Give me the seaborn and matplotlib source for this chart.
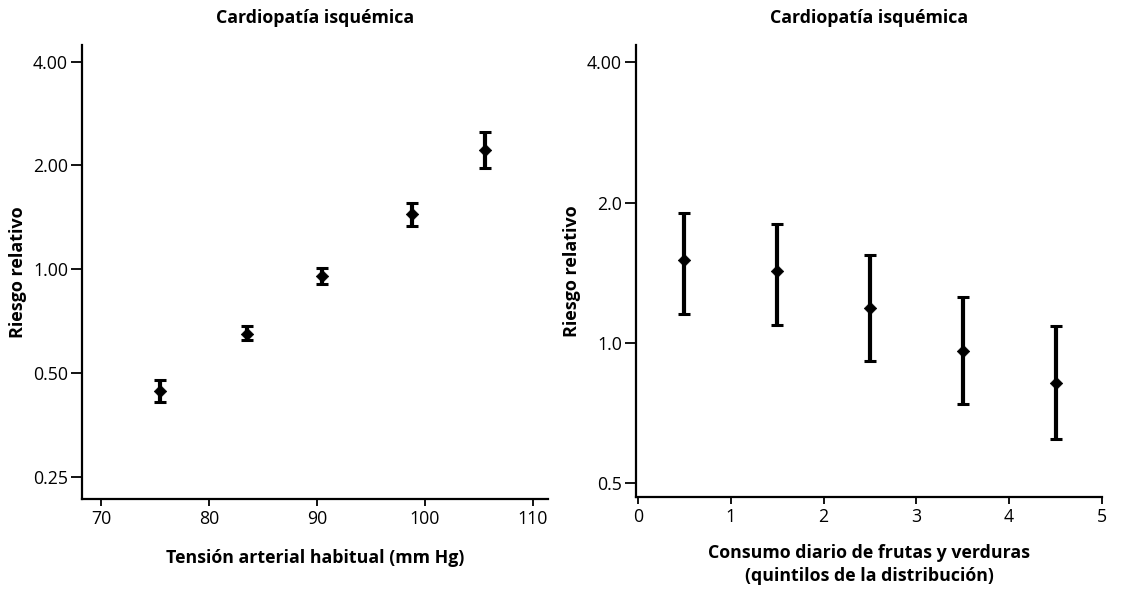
import matplotlib
matplotlib.use("Agg")
import matplotlib.pyplot as plt
import seaborn as sns
import pandas as pd
import numpy as np
from matplotlib.ticker import FixedLocator, NullLocator, FixedFormatter

sns.set_theme(style="ticks")
plt.rcParams['font.family'] = ['Open Sans', 'DejaVu Sans']
plt.rcParams['text.color'] = 'black'
plt.rcParams['axes.labelcolor'] = 'black'
plt.rcParams['axes.titlecolor'] = 'black'

# ---- Data: left panel (blood pressure) ----
bp_x = [75.5, 83.5, 90.5, 98.8, 105.6]
bp_rr = [0.443, 0.647, 0.955, 1.442, 2.216]
bp_lo = [0.411, 0.623, 0.904, 1.334, 1.970]
bp_hi = [0.477, 0.684, 1.010, 1.552, 2.499]
bp_xticks = [70, 80, 90, 100, 110]
bp_yticks = [0.25, 0.50, 1.00, 2.00, 4.00]
bp_yticklabels = ["0.25", "0.50", "1.00", "2.00", "4.00"]

# ---- Data: right panel (fruit & vegetables) ----
fv_x = [0.5, 1.5, 2.5, 3.5, 4.5]
fv_rr = [1.508, 1.426, 1.187, 0.963, 0.820]
fv_lo = [1.155, 1.092, 0.915, 0.740, 0.622]
fv_hi = [1.897, 1.797, 1.545, 1.253, 1.089]
fv_xticks = [0, 1, 2, 3, 4, 5]
fv_yticks = [0.5, 1.0, 2.0, 4.0]
fv_yticklabels = ["0.5", "1.0", "2.0", "4.00"]

title = "Cardiopatía isquémica"
ylabel = "Riesgo relativo"
xlabel_left = "Tensión arterial habitual (mm Hg)"
xlabel_right = "Consumo diario de frutas y verduras\n(quintilos de la distribución)"

W, H = 1121, 595
fig = plt.figure(figsize=(W / 100, H / 100), dpi=100)
fig.patch.set_facecolor("white")

def px_axes(x0, x1, y0, y1):
    return fig.add_axes([x0 / W, 1 - y1 / H, (x1 - x0) / W, (y1 - y0) / H])

axL = px_axes(82, 548, 45, 498.5)
axR = px_axes(636, 1102, 45, 497)

def draw(ax, x, rr, lo, hi, xlim, ylim, xticks, yticks, yticklabels, xlabel, lw):
    df = pd.DataFrame({"x": x, "rr": rr, "lo": lo, "hi": hi})
    ax.set_yscale("log")
    ax.errorbar(df["x"], df["rr"],
                yerr=[df["rr"] - df["lo"], df["hi"] - df["rr"]],
                fmt="none", ecolor="black", elinewidth=lw, capsize=4,
                capthick=2.2, zorder=2)
    sns.scatterplot(data=df, x="x", y="rr", ax=ax, marker="D", s=40,
                    color="black", edgecolor="black", linewidth=0.5,
                    zorder=3, legend=False)
    ax.set_xlim(*xlim)
    ax.set_ylim(*ylim)
    ax.xaxis.set_major_locator(FixedLocator(xticks))
    ax.yaxis.set_major_locator(FixedLocator(yticks))
    ax.yaxis.set_major_formatter(FixedFormatter(yticklabels))
    ax.yaxis.set_minor_locator(NullLocator())
    ax.xaxis.set_minor_locator(NullLocator())
    for s in ["top", "right"]:
        ax.spines[s].set_visible(False)
    for s in ["left", "bottom"]:
        ax.spines[s].set_linewidth(1.6)
        ax.spines[s].set_color("black")
    ax.tick_params(axis="y", direction="out", length=8, width=1.3,
                   labelsize=12.8, pad=2, colors="black")
    ax.tick_params(axis="x", direction="out", length=5, width=1.3,
                   labelsize=12.8, pad=3, colors="black")
    ax.set_title(title, fontsize=12.8, fontweight="bold", pad=16, color="black")
    ax.set_ylabel(ylabel, fontsize=13, fontweight="bold", color="black")
    ax.set_xlabel(xlabel, fontsize=12.8, fontweight="bold", linespacing=1.35,
                  color="black")
    ax.grid(False)
    ax.set_facecolor("white")

draw(axL, bp_x, bp_rr, bp_lo, bp_hi, (68.24, 111.4), (0.216, 4.47),
     bp_xticks, bp_yticks, bp_yticklabels, xlabel_left, 3.0)
draw(axR, fv_x, fv_rr, fv_lo, fv_hi, (-0.02, 5.0), (0.467, 4.36),
     fv_xticks, fv_yticks, fv_yticklabels, xlabel_right, 3.0)

axL.yaxis.set_label_coords(-0.118, 0.5)
axR.yaxis.set_label_coords(-0.118, 0.5)
axL.xaxis.set_label_coords(0.5, -0.112)
axR.xaxis.set_label_coords(0.5, -0.104)

fig.savefig("out.png", dpi=100, facecolor="white")
